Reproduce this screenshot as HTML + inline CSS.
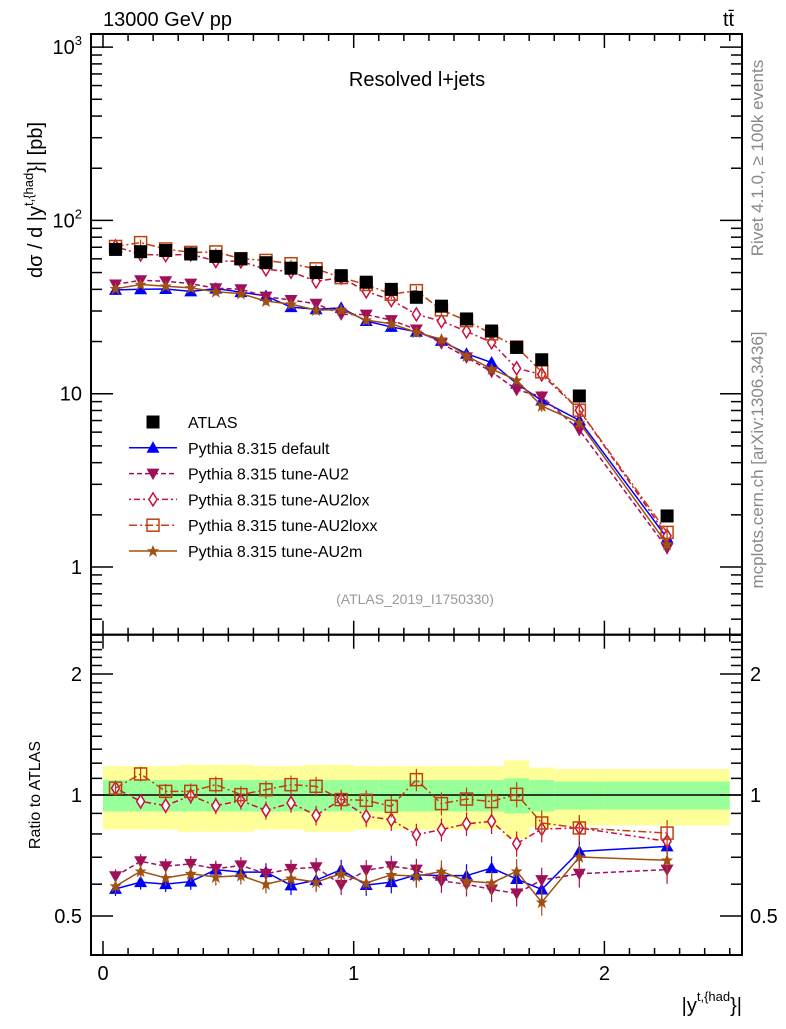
<!DOCTYPE html>
<html><head><meta charset="utf-8"><style>
body{margin:0;background:#fff;}
svg text{font-family:"Liberation Sans",sans-serif;}
</style></head><body>
<svg id="chart" width="786" height="1024" xmlns="http://www.w3.org/2000/svg">
<g id="bands"></g>
<g id="grid"></g>
<g id="series"></g>
<text x="103" y="26" font-size="20">13000 GeV pp</text>
<text x="723" y="26" font-size="20">tt̄</text>
<text x="417" y="86" font-size="20" text-anchor="middle">Resolved l+jets</text>
<text x="415" y="604" font-size="14" fill="#999" text-anchor="middle">(ATLAS_2019_I1750330)</text>
<text transform="translate(763,158) rotate(-90)" font-size="17" fill="#888" text-anchor="middle">Rivet 4.1.0, ≥ 100k events</text>
<text transform="translate(763,460) rotate(-90)" font-size="17" fill="#888" text-anchor="middle">mcplots.cern.ch [arXiv:1306.3436]</text>
<text transform="translate(42,200) rotate(-90)" font-size="20" text-anchor="middle">dσ / d |y<tspan font-size="13" dy="-9">t,{had</tspan><tspan dy="9">}| [pb]</tspan></text>
<text transform="translate(40,795) rotate(-90)" font-size="16" text-anchor="middle">Ratio to ATLAS</text>
<text x="742" y="1012" font-size="20" text-anchor="end">|y<tspan font-size="13" dy="-11">t,{had</tspan><tspan dy="11">}|</tspan></text>
<g id="legend"></g>
</svg>
<script>
const edges=[0,0.1,0.2,0.3,0.4,0.5,0.6,0.7,0.8,0.9,1.0,1.1,1.2,1.3,1.4,1.5,1.6,1.7,1.8,2.0,2.5];
const atlas=[68,66,67,64,62,60,57,53,50,48,44,40,36,32,27,23,18.5,15.7,9.7,1.97];
const statErr=[0.09,0.09,0.09,0.09,0.09,0.09,0.09,0.09,0.09,0.09,0.09,0.09,0.09,0.09,0.09,0.09,0.10,0.09,0.08,0.08];
const totErr=[0.18,0.18,0.18,0.19,0.19,0.19,0.18,0.18,0.19,0.19,0.18,0.18,0.18,0.18,0.18,0.18,0.22,0.17,0.16,0.16];
const rDefault=[0.584,0.607,0.600,0.609,0.652,0.643,0.643,0.596,0.614,0.652,0.597,0.607,0.633,0.630,0.630,0.658,0.618,0.582,0.724,0.745];
const rAU2=[0.628,0.684,0.665,0.674,0.655,0.668,0.637,0.655,0.661,0.598,0.650,0.665,0.652,0.611,0.600,0.582,0.569,0.614,0.637,0.652];
const rAU2lox=[1.04,0.964,0.941,0.996,0.941,0.968,0.916,0.955,0.890,0.974,0.885,0.868,0.797,0.820,0.848,0.860,0.757,0.823,0.828,0.767];
const rAU2loxx=[1.04,1.128,1.021,1.021,1.061,1.002,1.031,1.061,1.051,0.974,0.970,0.937,1.092,0.952,0.977,0.963,1.004,0.852,0.828,0.804];
const rAU2m=[0.593,0.646,0.622,0.637,0.625,0.630,0.600,0.620,0.607,0.637,0.604,0.633,0.628,0.645,0.611,0.604,0.646,0.541,0.701,0.688];
const xTicks=["0","1","2"];
const yTicks=["1","10","10²","10³"];
const rTicks=["0.5","1","2"];
const NS="http://www.w3.org/2000/svg";
const L=91,R=742,T=34,MB=634.7,RB=955;
const X=v=>103+v*250.7;
const Y=v=>567-Math.log10(v)*173.3;
const RY=v=>795-Math.log2(v)*121;
function mk(tag,at,parent){const e=document.createElementNS(NS,tag);for(const k in at)e.setAttribute(k,at[k]);parent.appendChild(e);return e;}
const grid=document.getElementById('grid'),bands=document.getElementById('bands'),ser=document.getElementById('series'),leg=document.getElementById('legend');
for(let i=0;i<atlas.length;i++){
 const x1=X(edges[i]),x2=Math.min(X(edges[i+1]),R-1);
 let b=mk('rect',{x:x1,y:RY(1+totErr[i]),width:x2-x1,height:RY(1-totErr[i])-RY(1+totErr[i]),fill:'#ffff99'},bands);
 
 
 b=mk('rect',{x:x1,y:RY(1+statErr[i]),width:x2-x1,height:RY(1-statErr[i])-RY(1+statErr[i]),fill:'#99ff99'},bands);
 
 
}
mk('line',{x1:L,x2:R,y1:RY(1),y2:RY(1),stroke:'#000','stroke-width':1.5},grid);
mk('rect',{x:L,y:T,width:R-L,height:MB-T,fill:'none',stroke:'#000','stroke-width':2},grid);
mk('rect',{x:L,y:MB,width:R-L,height:RB-MB,fill:'none',stroke:'#000','stroke-width':2},grid);
for(let k=0;k<=25;k++){const v=k/10,x=X(v);if(x>R)break;const len=k%10==0?14:7;
 for(const [y0,d] of [[T,1],[MB,-1],[MB,1],[RB,-1]])mk('line',{x1:x,x2:x,y1:y0,y2:y0+d*len,stroke:'#000','stroke-width':1.5},grid);}
xTicks.forEach((t,i)=>{const e=mk('text',{x:X(i),y:980,'font-size':20,'text-anchor':'middle'},grid);e.textContent=t;
 
 });
for(let d=-1;d<=3;d++)for(let m=1;m<10;m++){const v=m*Math.pow(10,d),y=Y(v);if(y<T||y>MB)continue;const len=m==1?22:11;
 mk('line',{x1:L,x2:L+len,y1:y,y2:y,stroke:'#000','stroke-width':1.5},grid);
 mk('line',{x1:R,x2:R-len,y1:y,y2:y,stroke:'#000','stroke-width':1.5},grid);}
yTicks.forEach((t,i)=>{const y=Y(Math.pow(10,i));const e=mk('text',{x:82,y:y+7,'font-size':20,'text-anchor':'end'},grid);
 if(i<2)e.textContent=t;else{e.textContent='10';const s=mk('tspan',{'font-size':13,dy:-9},e);s.textContent=String(i);}
 
 });
for(let k=4;k<=25;k++){const v=k/10,y=RY(v);if(y<MB||y>RB)continue;const maj=(k==5||k==10||k==20);const len=maj?22:11;
 mk('line',{x1:L,x2:L+len,y1:y,y2:y,stroke:'#000','stroke-width':1.5},grid);
 mk('line',{x1:R,x2:R-len,y1:y,y2:y,stroke:'#000','stroke-width':1.5},grid);}
rTicks.forEach(t=>{const y=RY(parseFloat(t));
 let e=mk('text',{x:82,y:y+7,'font-size':20,'text-anchor':'end'},grid);e.textContent=t;
 
 
 e=mk('text',{x:750,y:y+7,'font-size':20},grid);e.textContent=t;
 
 });
function marker(type,x,y,col,g){
 if(type=='sq')return mk('rect',{x:x-6.5,y:y-6.5,width:13,height:13,fill:'#000'},g);
 if(type=='up')return mk('polygon',{points:`${x},${y-6.5} ${x-6.5},${y+5} ${x+6.5},${y+5}`,fill:col},g);
 if(type=='dn')return mk('polygon',{points:`${x},${y+6.5} ${x-6.5},${y-5} ${x+6.5},${y-5}`,fill:col},g);
 if(type=='di')return mk('polygon',{points:`${x},${y-6.5} ${x-4},${y} ${x},${y+6.5} ${x+4},${y}`,fill:'#fff',stroke:col,'stroke-width':1.5},g);
 if(type=='osq')return mk('rect',{x:x-6,y:y-6,width:12,height:12,fill:'none',stroke:col,'stroke-width':1.5},g);
 if(type=='st')return mk('polygon',{points:`${x},${y-6} ${x+1.8},${y-1.8} ${x+6},${y-1.8} ${x+2.6},${y+1} ${x+4},${y+6} ${x},${y+3} ${x-4},${y+6} ${x-2.6},${y+1} ${x-6},${y-1.8} ${x-1.8},${y-1.8}`,fill:col},g);
}
const series=[
 {name:'default',r:rDefault,col:'#0000ff',dash:'',m:'up',label:'Pythia 8.315 default'},
 {name:'tune-au2',r:rAU2,col:'#a0105a',dash:'5,3',m:'dn',label:'Pythia 8.315 tune-AU2'},
 {name:'tune-au2lox',r:rAU2lox,col:'#c8103c',dash:'2,3,6,3',m:'di',label:'Pythia 8.315 tune-AU2lox'},
 {name:'tune-au2loxx',r:rAU2loxx,col:'#c04010',dash:'8,3,2,3',m:'osq',label:'Pythia 8.315 tune-AU2loxx'},
 {name:'tune-au2m',r:rAU2m,col:'#a05010',dash:'',m:'st',label:'Pythia 8.315 tune-AU2m'}];
const cen=atlas.map((_,i)=>(edges[i]+edges[i+1])/2);
series.forEach(s=>{
 const g=mk('g',{},ser);
 
 
 const pm=cen.map((c,i)=>X(c)+','+Y(atlas[i]*s.r[i])).join(' ');
 const pr=cen.map((c,i)=>X(c)+','+RY(s.r[i])).join(' ');
 for(const p of [pm,pr])mk('polyline',{points:p,fill:'none',stroke:s.col,'stroke-width':1.5,'stroke-dasharray':s.dash},g);
 cen.forEach((c,i)=>{const x=X(c),e=0.04+i*0.002;
  for(const [yc,y1,y2] of [[Y(atlas[i]*s.r[i]),Y(atlas[i]*s.r[i]*(1+e)),Y(atlas[i]*s.r[i]*(1-e))],[RY(s.r[i]),RY(s.r[i]*(1+e)),RY(s.r[i]*(1-e))]]){
   mk('line',{x1:x,x2:x,y1:y1,y2:y2,stroke:s.col,'stroke-width':1.2},g);
   const mm=marker(s.m,x,yc,s.col,g);
   
   }
 });
});
const ga=mk('g',{},ser);


cen.forEach((c,i)=>{const p=marker('sq',X(c),Y(atlas[i]),'#000',ga);
 
 });
const rows=[{label:'ATLAS',m:'sq',col:'#000',dash:null}].concat(series.map(s=>({label:s.label,m:s.m,col:s.col,dash:s.dash})));
rows.forEach((r,i)=>{const y=422+i*25.8;const g=mk('g',{},leg);
 
 
 if(r.dash!==null)mk('line',{x1:129,x2:177,y1:y,y2:y,stroke:r.col,'stroke-width':1.5,'stroke-dasharray':r.dash},g);
 marker(r.m,153,y,r.col,g);
 const t=mk('text',{x:188,y:y+6,'font-size':16},g);t.textContent=r.label;});
</script>
</body></html>
